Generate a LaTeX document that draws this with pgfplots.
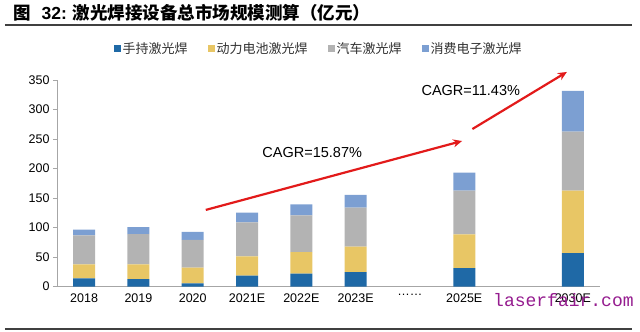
\documentclass[border=0pt]{standalone}
\usepackage{pgfplots}
\pgfplotsset{compat=1.18}
\usetikzlibrary{arrows.meta}
\usepackage{fontspec}
\setmainfont{Liberation Sans}
\newfontfamily\cjk{Noto Sans CJK SC}
\newfontfamily\wm{Liberation Mono}
\definecolor{cA}{HTML}{1F69A6}
\definecolor{cB}{HTML}{E8C665}
\definecolor{cC}{HTML}{B3B3B3}
\definecolor{cD}{HTML}{7C9FD2}
\definecolor{arr}{HTML}{E21A1A}
\definecolor{wmc}{HTML}{951C8F}
\begin{document}
\begin{tikzpicture}
\begin{axis}[
 scale only axis, width=543pt, height=206.7pt,
 ybar stacked, bar width=22pt,
 xmin=-0.5, xmax=9.5, ymin=0, ymax=350,
 xtick={0,1,2,3,4,5,6,7,9},
 xticklabels={2018,2019,2020,2021E,2022E,2023E,……,2025E,2030E},
 ytick={0,50,...,350},
 axis x line*=bottom, axis y line*=left,
 axis line style={draw=black!35, line width=0.8pt, -},
 x tick style={draw=none}, y tick style={draw=black!35, line width=0.8pt},
 tick align=outside, major tick length=4pt,
 ticklabel style={font=\fontsize{12.5}{14}\selectfont},
 /pgf/number format/assume math mode=true,
 clip=false,
 legend columns=4,
 legend style={at={(0.4816,1.15)}, anchor=center, draw=none, font=\cjk\fontsize{13}{15}\selectfont, text=black!80, /tikz/every even column/.append style={column sep=18pt}, inner sep=0pt},
 legend image code/.code={\path[#1,draw=none] (0pt,-3.5pt) rectangle (7pt,3.5pt);},
]
\addplot[fill=cA, draw=none] coordinates {(0,14) (1,13) (2,5.6) (3,18.6) (4,22) (5,24.8) (7,31.6) (9,57)};
\addplot[fill=cB, draw=none] coordinates {(0,24) (1,25) (2,26.6) (3,32.8) (4,36.7) (5,43) (7,57) (9,105.6)};
\addplot[fill=cC, draw=none] coordinates {(0,49) (1,51) (2,47) (3,57.6) (4,62) (5,66) (7,74) (9,100)};
\addplot[fill=cD, draw=none] coordinates {(0,9.5) (1,12) (2,13.5) (3,16.4) (4,18.7) (5,21.5) (7,30.5) (9,68.8)};
\legend{手持激光焊,动力电池激光焊,汽车激光焊,消费电子激光焊}
\draw[arr, line width=2.2pt, -{Stealth[length=9pt,width=8pt]}] (axis cs:2.24,130) -- (axis cs:6.96,246.7);
\draw[arr, line width=2.2pt, -{Stealth[length=9pt,width=8pt]}] (axis cs:7.15,267) -- (axis cs:8.89,363.6);
\node[font=\fontsize{14.5}{16}\selectfont] at (axis cs:4.2,226.4) {CAGR=15.87\%};
\node[font=\fontsize{14.5}{16}\selectfont] at (axis cs:7.12,333) {CAGR=11.43\%};
\path (axis description cs:-0.10497,-0.21916) rectangle (axis description cs:1.07366,1.38703);
\node[anchor=west, inner sep=0, font=\fontsize{17.5}{20}\selectfont\bfseries] at (axis description cs:-0.08103,1.32414) {{\cjk 图}\hspace{11pt}32:\hspace{6pt}{\cjk 激光焊接设备总市场规模测算（亿元）}};
\draw[line width=2pt, color=black!75] (axis description cs:-0.09576,1.26608) -- (axis description cs:1.05893,1.26608);
\draw[line width=2pt, color=black!75] (axis description cs:-0.09576,-0.20464) -- (axis description cs:1.05893,-0.20464);
\node[font=\wm\fontsize{18}{20}\selectfont, text=wmc, anchor=west, inner sep=0] at (axis description cs:0.80295,-0.06434) {laserfair.com};
\end{axis}
\end{tikzpicture}
\end{document}
